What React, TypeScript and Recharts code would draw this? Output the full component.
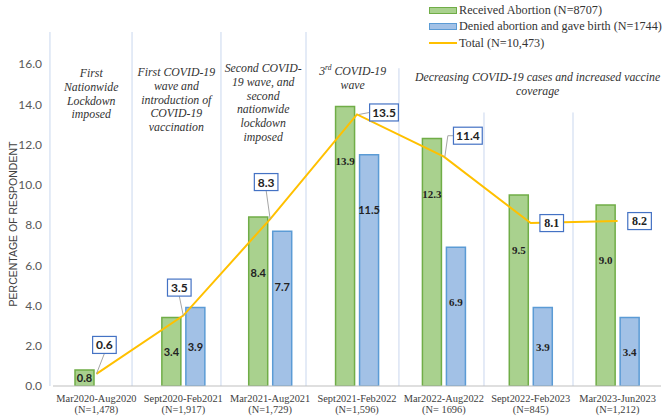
import React from 'react';
import { ComposedChart, Bar, Line, XAxis, YAxis, LabelList, Label } from 'recharts';

// periods (x categories) and their sample sizes
const periods = [
  'Mar2020-Aug2020',
  'Sept2020-Feb2021',
  'Mar2021-Aug2021',
  'Sept2021-Feb2022',
  'Mar2022-Aug2022',
  'Sept2022-Feb2023',
  'Mar2023-Jun2023'
];
const periodN = ['(N=1,478)', '(N=1,917)', '(N=1,729)', '(N=1,596)', '(N= 1696)', '(N=845)', '(N=1,212)'];

// percentages of respondents
const receivedAbortion = [0.8, 3.4, 8.4, 13.9, 12.3, 9.5, 9.0];
const deniedAbortion = [null, 3.9, 7.7, 11.5, 6.9, 3.9, 3.4];
const total = [0.6, 3.5, 8.3, 13.5, 11.4, 8.1, 8.2];

const yTicks = [0, 2, 4, 6, 8, 10, 12, 14, 16];

// period notes drawn above the bars
const annotations = [
  ['First', 'Nationwide', 'Lockdown', 'imposed'],
  ['First COVID-19', 'wave and', 'introduction of', 'COVID-19', 'vaccination'],
  ['Second COVID-', '19 wave, and', 'second', 'nationwide', 'lockdown', 'imposed'],
  ['3rd COVID-19', 'wave'],
  ['Decreasing COVID-19 cases and increased vaccine', 'coverage']
];

const data = periods.map((p, i) => ({
  period: p,
  n: periodN[i],
  received: receivedAbortion[i],
  denied: deniedAbortion[i],
  total: total[i]
}));

// chart geometry
const W = 669;
const H = 418;
const PLOT_L = 53;
const PLOT_R = 661;
const PLOT_T = 32;
const PLOT_B = 386;
const Y_MAX = 17.6;
const COL_W = (PLOT_R - PLOT_L) / periods.length;
const colX = (c: number) => PLOT_L + c * COL_W;
const yPx = (v: number) => PLOT_B - (v / Y_MAX) * (PLOT_B - PLOT_T);

// hand-drawn separators in the original (column units, start value)
const separatorCols = [-0.035, 0.91, 1.934, 2.913, 3.983, 4.962, 5.987];
const separatorTop = [17.6, 17.6, 17.6, 17.6, 15.8, 13.6, 13.6];
const noteCenters = [0.44, 1.42, 2.42, 3.45, 5.58];
const noteFirstLine = [73, 72, 68, 71, 77];

const GREEN = '#a9d18e';
const GREEN_EDGE = '#70ad47';
const BLUE = '#a2c1e6';
const BLUE_EDGE = '#5b9bd5';
const GOLD = '#ffc000';
const SERIF = '"Liberation Serif", "Times New Roman", serif';
const SANS = 'Lato, "Liberation Sans", sans-serif';

function PeriodTick(props: any) {
  const { x, y, payload, index } = props;
  return (
    <text x={x} y={y} textAnchor="middle" fontFamily={SERIF} fontSize={10.4} fill="#404040">
      <tspan x={x} dy={16}>{payload.value}</tspan>
      <tspan x={x} dy={11}>{periodN[index]}</tspan>
    </text>
  );
}

function BarValue(props: any) {
  const { x, y, width, height, value, index } = props;
  if (value == null) return null;
  const cy = y + Math.min(height / 2, 55);
  return (
    <text
      x={x + width / 2}
      y={cy}
      textAnchor="middle"
      dominantBaseline="central"
      fontFamily={index < 3 ? SANS : SERIF}
      fontWeight={700}
      fontSize={11}
      fill="#222"
    >
      {Number(value).toFixed(1)}
    </text>
  );
}

// where each total box sits relative to its point
const boxOffsets: [number, number][] = [
  [8, -29],
  [-4, -28],
  [-4, -37],
  [27, -2],
  [24, -21],
  [21, 0],
  [22, 0]
];

function TotalBox(props: any) {
  const { x, y, value, index } = props;
  const txt = Number(value).toFixed(1);
  const [dx, dy] = boxOffsets[index];
  const w = txt.length * 5.2 + 8;
  const h = 17;
  const bx = x + dx;
  const by = y + dy;
  let leader: React.ReactNode = null;
  if (index < 3) {
    leader = <line x1={x} y1={y} x2={bx} y2={by + h / 2} stroke="#a6a6a6" strokeWidth={1} />;
  } else if (index === 3) {
    leader = <line x1={x + 2} y1={y} x2={bx - w / 2} y2={by} stroke="#a6a6a6" strokeWidth={1} />;
  } else if (index === 4) {
    leader = (
      <polyline
        points={`${x + 1},${y} ${x + 4},${by} ${bx - w / 2},${by}`}
        fill="none"
        stroke="#a6a6a6"
        strokeWidth={1}
      />
    );
  }
  return (
    <g>
      {leader}
      <rect x={bx - w / 2} y={by - h / 2} width={w} height={h} fill="#fff" stroke="#4472c4" strokeWidth={1.2} />
      <text
        x={bx}
        y={by}
        textAnchor="middle"
        dominantBaseline="central"
        fontFamily={index < 5 ? SANS : SERIF}
        fontWeight={700}
        fontSize={12}
        fill="#222"
      >
        {txt}
      </text>
    </g>
  );
}

function YTitle(props: any) {
  const { viewBox } = props;
  const cx = 13;
  const cy = viewBox.y + viewBox.height / 2 + 15;
  return (
    <text
      x={cx}
      y={cy}
      transform={`rotate(-90 ${cx} ${cy})`}
      textAnchor="middle"
      dominantBaseline="central"
      fontFamily='"Liberation Sans", Arial, sans-serif'
      fontSize={10.5}
      fill="#404040"
    >
      PERCENTAGE OF RESPONDENT
    </text>
  );
}

// separators and period notes, underneath the chart
function Backdrop() {
  return (
    <svg width={W} height={H} style={{ position: 'absolute', left: 0, top: 0 }}>
      {separatorCols.map((c, i) => (
        <line
          key={i}
          x1={colX(c)}
          x2={colX(c)}
          y1={yPx(separatorTop[i])}
          y2={PLOT_B}
          stroke="#c9d7ee"
          strokeWidth={1}
        />
      ))}
      {annotations.map((lines, k) => {
        const cx = colX(noteCenters[k]);
        return (
          <text key={k} textAnchor="middle" fontFamily={SERIF} fontStyle="italic" fontSize={11.8} fill="#333">
            {lines.map((l, i) => (
              <tspan key={i} x={cx} y={noteFirstLine[k] + i * 13.8} dominantBaseline="central">
                {l.startsWith('3rd') ? (
                  <>
                    3<tspan fontSize={7.5} dy={-4}>rd</tspan>
                    <tspan dy={4}>{l.slice(3)}</tspan>
                  </>
                ) : (
                  l
                )}
              </tspan>
            ))}
          </text>
        );
      })}
    </svg>
  );
}

function LegendBlock() {
  const row = { display: 'flex', alignItems: 'center', height: 16.5 } as const;
  const txt = { fontFamily: SERIF, fontSize: 12.2, color: '#333', marginLeft: 2, whiteSpace: 'nowrap' } as const;
  return (
    <div style={{ position: 'absolute', left: 429, top: 2 }}>
      <div style={row}>
        <span style={{ width: 26, height: 5, background: GREEN, border: `1px solid ${GREEN_EDGE}` }} />
        <span style={txt}>Received Abortion (N=8707)</span>
      </div>
      <div style={row}>
        <span style={{ width: 26, height: 5, background: BLUE, border: `1px solid ${BLUE_EDGE}` }} />
        <span style={txt}>Denied abortion and gave birth (N=1744)</span>
      </div>
      <div style={row}>
        <span style={{ width: 28, height: 2, background: GOLD }} />
        <span style={txt}>Total (N=10,473)</span>
      </div>
    </div>
  );
}

export default function App() {
  return (
    <div style={{ position: 'absolute', left: 0, top: 0, width: W, height: H, background: '#fff' }}>
      <Backdrop />
      <div style={{ position: 'absolute', left: 0, top: 0 }}>
        <ComposedChart
          width={W}
          height={H}
          data={data}
          margin={{ top: PLOT_T, right: W - PLOT_R, bottom: 0, left: PLOT_L - 50 }}
          barSize={19}
          barGap={5}
        >
          <XAxis
            dataKey="period"
            height={H - PLOT_B}
            tickLine={false}
            tickSize={0}
            tickMargin={0}
            axisLine={{ stroke: '#bfbfbf' }}
            interval={0}
            tick={<PeriodTick />}
          />
          <YAxis
            width={50}
            domain={[0, Y_MAX]}
            ticks={yTicks}
            allowDataOverflow
            axisLine={false}
            tickLine={false}
            tickMargin={5}
            tickFormatter={(v: number) => v.toFixed(1)}
            tick={{ fontSize: 12, fill: '#595959', fontFamily: SANS }}
          >
            <Label content={<YTitle />} />
          </YAxis>
          <Bar dataKey="received" fill={GREEN} stroke={GREEN_EDGE} strokeWidth={1.5} isAnimationActive={false}>
            <LabelList dataKey="received" content={<BarValue />} />
          </Bar>
          <Bar dataKey="denied" fill={BLUE} stroke={BLUE_EDGE} strokeWidth={1.5} isAnimationActive={false}>
            <LabelList dataKey="denied" content={<BarValue />} />
          </Bar>
          <Line dataKey="total" type="linear" stroke={GOLD} strokeWidth={2} dot={false} isAnimationActive={false}>
            <LabelList dataKey="total" content={<TotalBox />} />
          </Line>
        </ComposedChart>
      </div>
      <LegendBlock />
    </div>
  );
}
